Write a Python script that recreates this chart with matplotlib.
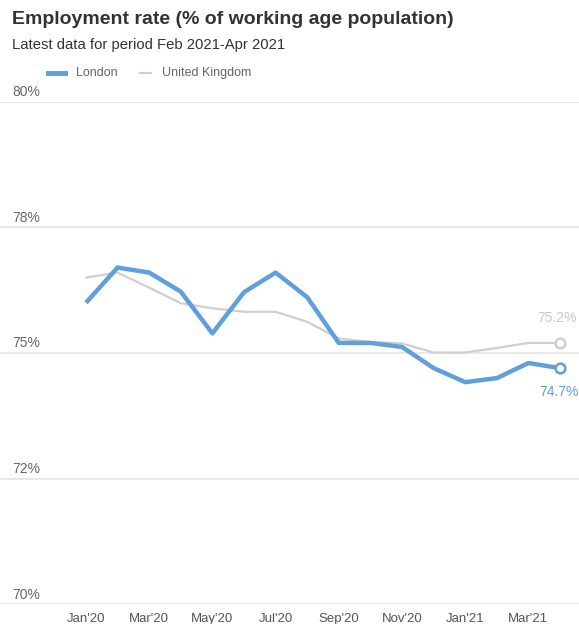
import matplotlib
matplotlib.use("Agg")
import matplotlib.pyplot as plt
from matplotlib.lines import Line2D
import matplotlib.transforms as mtransforms

plt.rcParams['font.family'] = ['Liberation Sans', 'DejaVu Sans']

months = ["Jan'20", "Feb'20", "Mar'20", "Apr'20", "May'20", "Jun'20", "Jul'20", "Aug'20",
          "Sep'20", "Oct'20", "Nov'20", "Dec'20", "Jan'21", "Feb'21", "Mar'21", "Apr'21"]
london = [76.0, 76.7, 76.6, 76.22, 75.39, 76.21, 76.6, 76.11,
          75.2, 75.2, 75.12, 74.7, 74.42, 74.5, 74.8, 74.7]
uk = [76.5, 76.6, 76.3, 75.99, 75.89, 75.82, 75.82, 75.62,
      75.29, 75.22, 75.19, 75.01, 75.01, 75.1, 75.2, 75.2]
ytick_vals = [70, 72.5, 75, 77.5, 80]
ytick_labels = ["70%", "72%", "75%", "78%", "80%"]
xtick_labels = ["Jan'20", "Mar'20", "May'20", "Jul'20", "Sep'20", "Nov'20", "Jan'21", "Mar'21"]

BLUE = "#5f9fda"
GREY = "#cfcfcf"
W, H = 579, 624
fig = plt.figure(figsize=(W / 100, H / 100), dpi=100)

ax_bottom = 604.3
ax_top = 101.7
ax = fig.add_axes([0, 1 - ax_bottom / H, 1, (ax_bottom - ax_top) / H])
x = list(range(len(months)))
px_per_month = (560 - 86) / 15
ax.set_xlim(-86 / px_per_month, 15 + (W - 560) / px_per_month)
ax.set_ylim(70, 80)

for s in ax.spines.values():
    s.set_visible(False)
ax.set_yticks(ytick_vals)
ax.set_yticklabels([])
ax.tick_params(axis='y', length=0)
ax.grid(axis='y', color='#e6e6e6', linewidth=1.3)
ax.set_axisbelow(True)

xt = [months.index(m) for m in xtick_labels]
ax.set_xticks(xt)
ax.set_xticklabels(xtick_labels, color='#555555', fontsize=9.5)
ax.tick_params(axis='x', length=0, pad=6)

trans = mtransforms.blended_transform_factory(fig.transFigure, ax.transData)
for v, lab in zip(ytick_vals, ytick_labels):
    ax.text(12 / W, v, lab, transform=trans + mtransforms.ScaledTranslation(0, 2 / 72, fig.dpi_scale_trans),
            ha='left', va='bottom', fontsize=10, color='#666666')

ax.plot(x, uk, color=GREY, linewidth=1.6, solid_joinstyle='round', zorder=3)
ax.plot(x, london, color=BLUE, linewidth=3.2, solid_joinstyle='round', solid_capstyle='butt', zorder=4)
ax.plot([x[-1]], [uk[-1]], marker='o', markersize=7, markerfacecolor='white',
        markeredgecolor=GREY, markeredgewidth=1.8, zorder=5)
ax.plot([x[-1]], [london[-1]], marker='o', markersize=7, markerfacecolor='white',
        markeredgecolor=BLUE, markeredgewidth=1.8, zorder=5)
ax.annotate(f"{uk[-1]:.1f}%", (x[-1], uk[-1]), xytext=(-2, 13), textcoords='offset points',
            ha='center', va='bottom', fontsize=10, color='#c8c8c8', annotation_clip=False)
ax.annotate(f"{london[-1]:.1f}%", (x[-1], london[-1]), xytext=(-1, -12), textcoords='offset points',
            ha='center', va='top', fontsize=10, color=BLUE, annotation_clip=False)

fig.text(12 / W, 1 - 20 / H, "Employment rate (% of working age population)", fontsize=14,
         fontweight='bold', color='#333333', ha='left', va='center')
fig.text(12 / W, 1 - 45 / H, "Latest data for period Feb 2021-Apr 2021", fontsize=10.7,
         color='#333333', ha='left', va='center')

ly = 1 - 73 / H
fig.add_artist(Line2D([48 / W, 65 / W], [ly, ly], color=BLUE, linewidth=3.5, transform=fig.transFigure))
fig.text(76 / W, ly, "London", fontsize=9, color='#666666', ha='left', va='center')
fig.add_artist(Line2D([140 / W, 151 / W], [ly, ly], color=GREY, linewidth=1.5, transform=fig.transFigure))
fig.text(162 / W, ly, "United Kingdom", fontsize=9, color='#666666', ha='left', va='center')

fig.savefig("out.png", dpi=100)
